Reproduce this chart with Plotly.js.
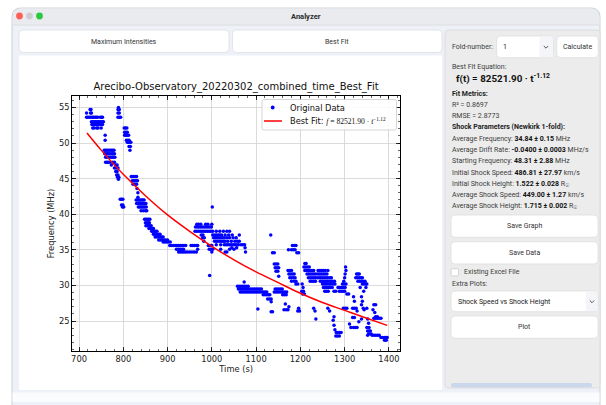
<!DOCTYPE html>
<html><head><meta charset="utf-8">
<script src="https://cdn.plot.ly/plotly-3.0.1.min.js"></script>
<style>html,body{margin:0;padding:0;background:#fff;overflow:hidden}#chart{width:606px;height:405px}</style>
</head><body><div id="chart"></div>
<script>
// ---------- data ----------
// each row = one frequency channel (MHz) and the times (s) where a point appears
const rowFreq = [55.0,54.7,54.2,53.6,53.0,52.6,52.1,51.5,51.1,50.4,50.1,49.5,49.0,48.5,48.0,47.3,46.9,46.5,46.0,45.5,45.2,44.9,
  42.1,41.3,41.0,45.3,44.7,44.2,43.6,43.0,42.4,42.0,41.5,41.0,40.5,39.3,38.8,38.4,38.0,37.6,37.2,36.8,36.4,36.1,35.6,35.1,34.7,
  38.6,38.2,37.1,36.7,36.2,35.7,35.3,31.4,30.5,29.9,29.5,29.1,28.7,28.1,27.7,26.7,26.3,34.6,33.0,32.5,32.0,31.3,27.4,27.0,26.6,
  35.0,32.1,31.6,31.1,30.6,30.2,29.7,29.2,28.8,26.4,26.8,33.1,32.6,25.3,25.6,25.1,24.4,23.8,23.4,22.9,28.4,27.8,25.5,24.9,24.6,
  24.1,27.3,26.2,25.4,24.7,23.6,23.2,23.0,22.7,22.3];
const rowTimes = [
  [789],[725,727,788,791],[717,726,728,788,791],
  [717,720,723,727,730,733,736,739,742,748,751,753,788,791,794],
  [728,731,734,737,740,743,746,749,752,755],
  [729,732,735,738,741,744,747,750,753],
  [731,734,740,743,750,802,805,808],
  [803,806,809],[759,803,806,809,812],[759,807,810,813],[809,812,815,817],[813,816],
  [757,760,763,766,770,773,776,779,815],
  [758,761,764,767,770,774,777,780],
  [760,763,768,772,775,778,781],
  [760,763,766,770,776,780],
  [773,783,786],[780,784,788],[783,786],[785,788],[787,790],[789],
  [793,796,799],[796,799],[798,801],
  [818,821,824,827,830],[820,823,826,829,832],[822,826,830],[831],[833],[833],
  [829,832,835,838,841,844,847],
  [830,833,836,839,842,845,848,851],
  [834,837,840,843,846,849,852,1001],
  [840,845,850,853],
  [848,851,854,857,860],[850,853,856,859],[851,854,857,860,863],[858,862,865,868],
  [864,867,870,873,876,962,966,970,974,978,982,986,990,994,998,1002,1010,1018,1026,1034,1040],
  [868,871,874,877,880,883],
  [872,876,880,884,887,890],
  [880,884,888,892,896,900],
  [890,894,898,902,906],
  [905,909,913,917,921,925,929,933,937,941,953,957,961,965,968,992,996,1000,1182,1186,1190],
  [920,924,928,932,936,968,994,998,1002,1020,1040,1050],
  [925,929,933,937,941,945,950,955,960,965,1000,1030,1034,1076],
  [966,970,975,986,991,1000],
  [963,967,971,975,979,983,987,991,995,999],
  [976,980,1002,1006,1010,1014,1018,1022,1030,1038,1046,1062,1133],
  [979,983,1004,1008,1012,1016,1020,1024,1028,1034,1040,1048,1055],
  [982,1006,1010,1014,1018,1022,1026,1030,1036,1044,1052,1058,1062],
  [1010,1020,1028,1032,1036,1040,1044,1048,1052,1056,1060,1066,1070,1074],
  [1045,1056,1075],
  [995],[1073],
  [1058,1062,1066,1070,1074,1078,1082],
  [1060,1064,1068,1072,1076,1080,1084,1088,1092,1096,1100,1104,1108,1112,1143,1147,1151,1155,1159],
  [1064,1068,1072,1076,1080,1084,1088,1092,1096,1100,1104,1108,1112,1116,1120,1124,1141,1145,1149,1153,1157,1161,1165,1169],
  [1116,1120,1124,1128,1131,1160,1164,1168],
  [1126,1130,1134],[1134],[1104],[1134,1137],
  [1137,1141,1192,1196],
  [1141,1145,1149],[1143,1147,1151],[1145,1149],[1151],
  [1166],[1174],[1163,1168,1172,1344,1364],
  [1173,1180,1184,1188],
  [1172,1176,1180,1210,1214,1218,1222,1226,1230,1240,1244,1248,1252,1256,1262,1303],
  [1174,1178,1182,1186,1215,1219,1223,1227,1231,1235,1240,1244,1248,1252,1256,1260,1301,1327,1330,1333],
  [1176,1180,1184,1188,1218,1222,1226,1230,1234,1238,1242,1246,1250,1254,1258,1262,1266,1270,1300,1325,1329,1333,1337,1340],
  [1180,1186,1190,1222,1226,1230,1234,1245,1249,1253,1257,1261,1265,1269,1273,1277,1298,1330,1334,1338,1342,1346],
  [1190,1194,1204,1250,1254,1258,1262,1266,1270,1274,1278,1295,1299,1303,1340,1344,1348,1350],
  [1206,1252,1256,1260,1264,1268,1272,1285,1289,1293,1297,1301,1335,1348],
  [1203,1207,1255,1259,1263,1276,1280,1288,1292,1296,1300,1343],
  [1205,1209,1305,1309],
  [1194,1198,1233,1266,1328],
  [1196,1230,1262,1297,1301,1305,1318,1322,1326,1342,1350],
  [1210,1213],[1208,1212,1216,1220,1302],
  [1235,1338,1352],[1276,1370,1374],[1274],[1276],[1278],
  [1281,1285,1289,1292],[1280,1284,1288],
  [1320,1338],[1322,1340],[1318,1322],[1332],[1311],
  [1314,1320,1324,1328,1350,1355],
  [1338,1366,1370],[1368],[1366,1370,1374,1378,1382],[1354],
  [1352,1356,1358],[1354,1360],[1352,1362,1366,1370,1374,1378],
  [1382,1386,1390,1394,1396],[1390,1394]
];
// best-fit curve as drawn (f = 82521.90 · t^-1.12)
const fitTime = [718,750,800,850,900,950,1000,1050,1100,1150,1200,1250,1300,1350,1396];
const fitFreq = [51.4,49.0,45.6,42.6,39.9,37.6,35.5,33.6,31.9,30.4,28.9,27.6,26.5,25.4,24.4];
const xTicks = [700,800,900,1000,1100,1200,1300,1400];
const xTickText = ['700','800','900','1000','1100','1200','1300','1400'];
const yTicks = [25,30,35,40,45,50,55];
const yTickText = ['25','30','35','40','45','50','55'];
const seriesNames = ['Original Data',
  'Best Fit: <span style="font-family:Liberation Serif;font-size:7.6px"><i>f</i> = 82521.90 · <i>t</i><sup>−1.12</sup></span>'];

const times = [], freqs = [];
rowFreq.forEach((f,i)=>rowTimes[i].forEach(t=>{times.push(t);freqs.push(f);}));

// ---------- helpers (pixel -> paper) ----------
const W=606,H=405;
const X=p=>p/W, Y=p=>1-p/H;
const UI='Roboto, Inter, sans-serif';
const MPL='"DejaVu Sans", sans-serif';
const shapes=[], ann=[];
function rrect(x0,y0,x1,y1,r,fill,line,lw,layer){
  const p=`M ${X(x0+r)},${Y(y0)} L ${X(x1-r)},${Y(y0)} Q ${X(x1)},${Y(y0)} ${X(x1)},${Y(y0+r)} L ${X(x1)},${Y(y1-r)} Q ${X(x1)},${Y(y1)} ${X(x1-r)},${Y(y1)} L ${X(x0+r)},${Y(y1)} Q ${X(x0)},${Y(y1)} ${X(x0)},${Y(y1-r)} L ${X(x0)},${Y(y0+r)} Q ${X(x0)},${Y(y0)} ${X(x0+r)},${Y(y0)} Z`;
  shapes.push({type:'path',xref:'paper',yref:'paper',path:p,fillcolor:fill,line:{color:line||fill,width:line?(lw||0.8):0},layer:layer||'below'});
}
function rect(x0,y0,x1,y1,fill){
  shapes.push({type:'rect',xref:'paper',yref:'paper',x0:X(x0),x1:X(x1),y0:Y(y0),y1:Y(y1),fillcolor:fill,line:{width:0},layer:'below'});
}
function hline(x0,x1,y,c,w,layer){
  shapes.push({type:'line',xref:'paper',yref:'paper',x0:X(x0),x1:X(x1),y0:Y(y),y1:Y(y),line:{color:c,width:w||0.8},layer:layer||'below'});
}
function circ(cx,cy,r,fill,layer){
  shapes.push({type:'circle',xref:'paper',yref:'paper',x0:X(cx-r),x1:X(cx+r),y0:Y(cy+r),y1:Y(cy-r),fillcolor:fill,line:{width:0},layer:layer||'below'});
}
function chev(cx,cy,c){
  shapes.push({type:'path',xref:'paper',yref:'paper',path:`M ${X(cx-2.2)},${Y(cy-1)} L ${X(cx)},${Y(cy+1.2)} L ${X(cx+2.2)},${Y(cy-1)}`,line:{color:c,width:1},layer:'below'});
}
function txt(px,py,text,o){
  o=o||{};
  ann.push({xref:'paper',yref:'paper',x:X(px),y:Y(py),text:text,showarrow:false,
    xanchor:o.anchor||'left',yanchor:'middle',borderpad:0,
    font:{family:o.family||UI,size:o.size||7,color:o.color||'#3c3c3c',weight:o.weight||'normal'}});
}

// ---------- window chrome ----------
rrect(12,8,600,414,9,'#eef1f7','#c4c6ca',0.8);
shapes.push({type:'path',xref:'paper',yref:'paper',layer:'below',fillcolor:'#e9ebef',line:{width:0},
  path:`M ${X(12.5)},${Y(25)} L ${X(12.5)},${Y(17)} Q ${X(12.5)},${Y(8.5)} ${X(21)},${Y(8.5)} L ${X(591)},${Y(8.5)} Q ${X(599.5)},${Y(8.5)} ${X(599.5)},${Y(17)} L ${X(599.5)},${Y(25)} Z`});
hline(12.5,599.5,25,'#d8dadf',0.8);
circ(19.5,16,3.4,'#fe5f57'); circ(29.5,16,3.4,'#cdcdcf'); circ(39.5,16,3.4,'#2bc840');
txt(306,16.5,'Analyzer',{anchor:'center',size:7.5,weight:'bold',color:'#2a2a2a'});

// top buttons
rrect(19,30,229,52.5,4,'#ffffff','#dcdee3');
rrect(232.5,30,442,52.5,4,'#ffffff','#dcdee3');
txt(124,41.5,'Maximum Intensities',{anchor:'center',color:'#333'});
txt(337,41.5,'Best Fit',{anchor:'center',color:'#333'});

// matplotlib canvas
rect(19,55.5,442,390,'#ffffff');
// status strip
rect(12.5,392.5,599.5,402,'#fbfcfe');

// right panel
rrect(445,30,600,388,3,'#ececec','#d9d9d9');
txt(451,47,'Fold-number:');
rrect(496.7,36,553.3,57.7,4,'#ffffff','#dedede');
rect(539.5,36.6,552.7,57.1,'#f3f5f9');
txt(502,47,'1',{color:'#222'});
chev(546,47,'#555');
rrect(556.7,36,598.3,57.7,4,'#ffffff','#dedede');
txt(577.5,47,'Calculate',{anchor:'center',color:'#333'});

txt(451,66.7,'Best Fit Equation:');
txt(455,78.8,'f(t) = 82521.90 · t<sup>-1.12</sup>',{size:9.8,weight:'bold',color:'#111'});
txt(451,94.3,'Fit Metrics:',{weight:'bold',color:'#222'});
txt(451,105.3,'R² = 0.8697');
txt(451,116,'RMSE = 2.8773');
txt(451,127,'Shock Parameters (Newkirk 1-fold):',{weight:'bold',color:'#222'});
const B=s=>'<b><span style="color:#111">'+s+'</span></b>';
txt(451,138.6,'Average Frequency: '+B('34.84 ± 0.15')+' MHz');
txt(451,149.9,'Average Drift Rate: '+B('-0.0400 ± 0.0003')+' MHz/s');
txt(451,161.2,'Starting Frequency: '+B('48.31 ± 2.88')+' MHz');
txt(451,172.5,'Initial Shock Speed: '+B('486.81 ± 27.97')+' km/s');
txt(451,183.8,'Initial Shock Height: '+B('1.522 ± 0.028')+' R<sub>☉</sub>');
txt(451,195.1,'Average Shock Speed: '+B('449.00 ± 1.27')+' km/s');
txt(451,206.4,'Average Shock Height: '+B('1.715 ± 0.002')+' R<sub>☉</sub>');

rrect(451,215,598,237.3,4,'#ffffff','#dedede');
txt(524.5,226.2,'Save Graph',{anchor:'center',color:'#333'});
rrect(451,241.7,598,264,4,'#ffffff','#dedede');
txt(524.5,252.8,'Save Data',{anchor:'center',color:'#333'});
rrect(451,268.7,458.6,276,1.5,'#ffffff','#c9c9c9');
txt(462.7,272.4,'Existing Excel File');
txt(451,283.5,'Extra Plots:');
rrect(451,291,598,311.7,4,'#ffffff','#dedede');
rect(585.7,291.6,597.4,311.1,'#f3f5f9');
txt(457,301.5,'Shock Speed vs Shock Height',{color:'#222'});
chev(592,301.5,'#555');
rrect(451,316,598,338.3,4,'#ffffff','#dedede');
txt(524.5,327.2,'Plot',{anchor:'center',color:'#333'});
rrect(451,383,592,387.5,2,'#cbd7ea');

// ---------- legend (matplotlib style, drawn above the data) ----------
rrect(262,99.5,396.5,130,2,'rgba(255,255,255,0.85)','#cccccc',0.8,'above');
circ(272.7,107.5,1.9,'#0000ff','above');
hline(264,282,121,'#ff0000',1.5,'above');
txt(288.5,107.5,seriesNames[0],{family:MPL,size:8.3,color:'#111'});
txt(288.5,121,seriesNames[1],{family:MPL,size:8.3,color:'#111'});

// ---------- chart ----------
const axFont={family:MPL,size:8.3,color:'#222'};
const traces=[
  {type:'scatter',mode:'markers',x:times,y:freqs,name:seriesNames[0],
   marker:{color:'#0000ff',size:3.5,line:{width:0}},hoverinfo:'skip'},
  {type:'scatter',mode:'lines',x:fitTime,y:fitFreq,name:seriesNames[1],
   line:{color:'#ff0000',width:1.5,shape:'spline'},hoverinfo:'skip'}
];
const layout={
  width:W,height:H,margin:{l:0,r:0,t:0,b:0},
  paper_bgcolor:'#ffffff',plot_bgcolor:'#ffffff',
  showlegend:false,
  title:{text:'Arecibo-Observatory_20220302_combined_time_Best_Fit',xref:'paper',yref:'paper',
    x:X(236),xanchor:'center',y:Y(86.5),yanchor:'middle',font:{family:MPL,size:10,color:'#111'}},
  xaxis:{domain:[X(72.3),X(400)],range:[684.8,1425],tickmode:'array',tickvals:xTicks,ticktext:xTickText,
    ticks:'inside',ticklen:4,tickwidth:0.8,tickcolor:'#000',showline:true,linecolor:'#000',linewidth:1.1,
    mirror:'allticks',showgrid:true,gridcolor:'#d2d2d2',gridwidth:0.8,zeroline:false,tickfont:axFont,
    minor:{tickmode:'linear',tick0:0,dtick:20,ticks:'inside',ticklen:2,tickwidth:0.6,tickcolor:'#000',showgrid:false},
    title:{text:'Time (s)',font:axFont,standoff:3},automargin:false},
  yaxis:{domain:[Y(351),Y(96)],range:[20.8,56.6],tickmode:'array',tickvals:yTicks,ticktext:yTickText,
    ticks:'inside',ticklen:4,tickwidth:0.8,tickcolor:'#000',showline:true,linecolor:'#000',linewidth:1.1,
    mirror:'allticks',showgrid:true,gridcolor:'#d2d2d2',gridwidth:0.8,zeroline:false,tickfont:axFont,
    minor:{tickmode:'linear',tick0:0,dtick:1,ticks:'inside',ticklen:2,tickwidth:0.6,tickcolor:'#000',showgrid:false},
    title:{text:'Frequency (MHz)',font:axFont,standoff:3},automargin:false},
  shapes:shapes,annotations:ann
};
Plotly.newPlot('chart',traces,layout,{displayModeBar:false,staticPlot:true});
</script></body></html>
